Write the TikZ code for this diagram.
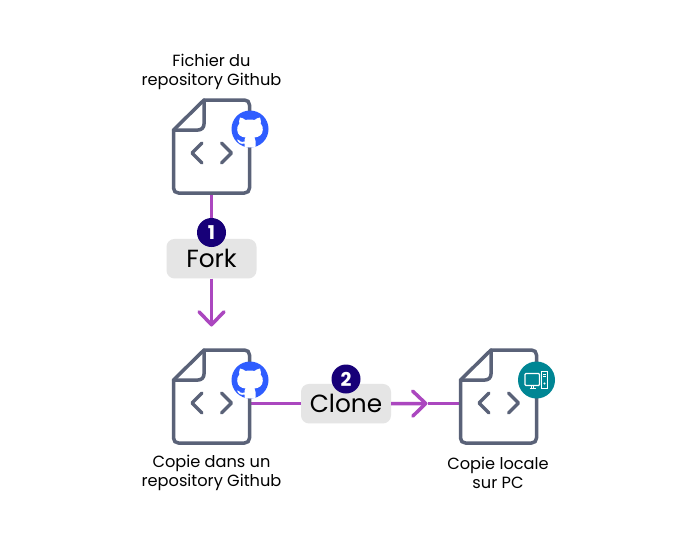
\documentclass[tikz,border=0pt]{standalone}
\usepackage{fontspec}
\setmainfont{Poppins}
\usetikzlibrary{arrows.meta}
\definecolor{iconline}{HTML}{5A6278}
\definecolor{flow}{HTML}{AB47BF}
\definecolor{ghblue}{HTML}{2F5DFF}
\definecolor{pcteal}{HTML}{008694}
\definecolor{badgenavy}{HTML}{170078}
\definecolor{labelgrey}{HTML}{E5E5E5}
\tikzset{
  filebox/.style={inner sep=0pt,outer sep=1.75pt,minimum width=76pt,minimum height=93pt},
  conn/.style={draw=flow,line width=3.5pt},
  tipped/.style={-{Straight Barb[length=13pt,width=25pt,round,line width=3.5pt]}},
  oplabel/.style={fill=labelgrey,rounded corners=8pt,minimum width=90pt,minimum height=39.5pt,inner sep=0pt,font=\fontsize{24.8}{28}\selectfont},
  badge/.style={circle,fill=badgenavy,text=white,minimum size=29pt,inner sep=0pt,font=\fontsize{19}{20}\selectfont\bfseries},
  caption/.style={align=center,inner sep=0pt,font=\fontsize{16.2}{19}\selectfont,text=black},
  doc/.pic={
    \draw[iconline,line width=3.5pt,line join=round,line cap=round,fill=white]
      (-7.5,-46.5) -- (33,-46.5) .. controls (36,-46.5) and (38,-44.5) .. (38,-41.5)
      -- (38,41.5) .. controls (38,44.5) and (36,46.5) .. (33,46.5)
      -- (-33,46.5) .. controls (-36,46.5) and (-38,44.5) .. (-38,41.5)
      -- (-38,-16.5) -- cycle;
    \draw[iconline,line width=3.5pt,line join=round,line cap=round]
      (-7.5,-46.5) -- (-7.5,-22.5) .. controls (-7.5,-19) and (-10,-16.5) .. (-13.5,-16.5) -- (-38,-16.5);
    \draw[iconline,line width=3.5pt,line cap=round,line join=round]
      (-9.5,-3.5) -- (-19.5,6.5) -- (-9.5,16.5)
      (10,-3.5) -- (20,6.5) -- (10,16.5);
  },
  ghmark/.pic={
    \fill[ghblue] (0,0) circle[radius=18.5pt];
    \begin{scope}
      \clip (0,0) circle[radius=18.5pt];
      \fill[white] (-10,-11.5) .. controls (-8,-11.5) and (-6,-10) .. (-4.5,-9)
        .. controls (-2,-9.6) and (2,-9.6) .. (4.5,-9)
        .. controls (6,-10) and (8,-11.5) .. (10,-11.5)
        .. controls (11,-9) and (11,-7) .. (10.7,-5.5)
        .. controls (12.5,-3.5) and (13,-1) .. (12.8,1)
        .. controls (12.5,6) and (9,8) .. (4.5,8.5)
        .. controls (5.5,9.5) and (5.5,11) .. (5.5,12) -- (5.5,20) -- (-5.5,20) -- (-5.5,14.5)
        .. controls (-9,15.5) and (-11.5,14) .. (-13,10.5)
        .. controls (-11.5,10.5) and (-10.5,11.5) .. (-9.5,12.5)
        .. controls (-8.5,13) and (-7,13) .. (-5.5,12.5)
        .. controls (-5.5,11) and (-5.5,9.5) .. (-4.5,8.5)
        .. controls (-9,8) and (-12.5,6) .. (-12.8,1)
        .. controls (-13,-1) and (-12.5,-3.5) .. (-10.7,-5.5)
        .. controls (-11,-7) and (-11,-9) .. (-10,-11.5) -- cycle;
    \end{scope}
  },
  pcmark/.pic={
    \fill[pcteal] (0,0) circle[radius=18.5pt];
    \draw[white,line width=1.1pt,rounded corners=1pt] (-11.5,-6.5) rectangle (3,5.5);
    \draw[white,line width=1.1pt] (-5,5.5) -- (-5,8.3) (-3,5.5) -- (-3,8.3) (-7,8.3) -- (-1,8.3);
    \draw[white,line width=1.1pt] (4.8,-8.6) rectangle (11,8.3);
    \draw[white,line width=1pt] (6.3,-5.8) -- (9.5,-5.8) (6.3,-3.4) -- (9.5,-3.4);
    \fill[white] (8,3.5) circle[radius=1.1pt];
  },
}
\begin{document}
\begin{tikzpicture}[x=1pt,y=-1pt]
\useasboundingbox (0,0) rectangle (695,541);
\fill[white] (0,0) rectangle (695,541);

\node[filebox] (f1) at (211.5,146.5) {};
\node[filebox] (f2) at (211.5,396.5) {};
\node[filebox] (f3) at (498.5,396.5) {};
\node[oplabel] (fork) at (211.5,258.7) {Fork};
\node[oplabel] (clone) at (346,403.7) {Clone};
\coordinate (forktip) at (211.5,326.5);
\coordinate (clonetip) at (427.5,403.5);

\draw[conn] (f1.south) -- (fork.north);
\draw[conn,tipped] (fork.south) -- (forktip);
\draw[conn] (f2.east |- clone.west) -- (clone.west);
\draw[conn,tipped] (clone.east) -- (clonetip);
\draw[conn] (clonetip) -- (f3.west |- clonetip);

\node[badge] (b1) at (211.5,232.5) {1};
\node[badge] (b2) at (346,379) {2};

\pic at (f1) {doc};
\pic at (f2) {doc};
\pic at (f3) {doc};
\pic at (250,129) {ghmark};
\pic at (250,380) {ghmark};
\pic at (536.5,380) {pcmark};

\node[caption] (t1) at (211.5,72) {Fichier du\\repository Github};
\node[caption] (t2) at (211.5,473) {Copie dans un\\repository Github};
\node[caption] (t3) at (498,473) {Copie locale\\sur PC};
\end{tikzpicture}
\end{document}
